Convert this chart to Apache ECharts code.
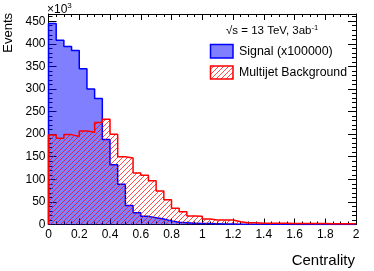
<!DOCTYPE html>
<html>
<head>
<meta charset="utf-8">
<script src="https://cdn.jsdelivr.net/npm/echarts@6/dist/echarts.min.js"></script>
<style>
html,body{margin:0;padding:0;background:#fff;}
#chart{width:374px;height:271px;}
</style>
</head>
<body>
<div id="chart"></div>
<script>
// Bin low edges (Centrality), width 0.05
const binLow = [0,0.05,0.1,0.15,0.2,0.25,0.3,0.35,0.4,0.45,0.5,0.55,0.6,0.65,0.7,0.75,0.8,0.85,0.9,0.95,
                1.0,1.05,1.1,1.15,1.2,1.25,1.3,1.35,1.4,1.45,1.5,1.55,1.6,1.65,1.7,1.75,1.8,1.85,1.9,1.95];
const xHigh = 2.0;
// Signal (x100000), in units of 10^3 events
const signal = [445,408,394,385,345,300,279,188,132,89,42,26,18,15,12,8,5,4,3,2,
                2,1.5,1,1,0.8,0.6,0.5,0.5,0.4,0.3,0.3,0.2,0.2,0.2,0.1,0.1,0.1,0.1,0.1,0.1];
// Multijet background, in units of 10^3 events
const background = [198,191,199,195,207,204,226,233,200,150,147,114,109,97,74,55,36,28,19,18,
                    12,10,10,10,6,4,4,3,3,3,3,2,2,2,2,2,1.5,1.5,1.5,1.5];
const xTicks = [0,0.2,0.4,0.6,0.8,1,1.2,1.4,1.6,1.8,2];
const yTicks = [0,50,100,150,200,250,300,350,400,450];

function stepData(vals){
  const d = [[binLow[0], 0]];
  binLow.forEach((e,i)=>d.push([e, vals[i]]));
  d.push([xHigh, vals[vals.length-1]]);
  d.push([xHigh, 0]);
  return d;
}

// hatch pattern
function makeHatch(){
  const s = 5;
  const c = document.createElement('canvas');
  c.width = s; c.height = s;
  const g = c.getContext('2d');
  g.strokeStyle = 'rgba(255,0,0,0.85)';
  g.lineWidth = 0.85;
  g.beginPath();
  g.moveTo(0, s); g.lineTo(s, 0);
  g.moveTo(-1, 1); g.lineTo(1, -1);
  g.moveTo(s-1, s+1); g.lineTo(s+1, s-1);
  g.stroke();
  return c;
}
const hatch = makeHatch();
const FONT = 'Liberation Sans, Arial, Helvetica, sans-serif';

const chart = echarts.init(document.getElementById('chart'), null, {renderer:'canvas'});
const axisCommon = {
  axisLine:{show:true, onZero:false, lineStyle:{color:'#000', width:1}},
  splitLine:{show:false}
};
const option = {
  animation:false,
  backgroundColor:'#fff',
  grid:{left:48.5, right:18, top:14, bottom:46.5, containLabel:false},
  xAxis:[
    Object.assign({type:'value', min:xTicks[0], max:xTicks[xTicks.length-1], interval:0.2, position:'bottom',
      axisTick:{show:true, inside:true, length:6, lineStyle:{color:'#000'}},
      minorTick:{show:true, splitNumber:4, length:3, lineStyle:{color:'#000'}},
      axisLabel:{show:true, fontSize:12, color:'#000', fontFamily:FONT, margin:4}
    }, axisCommon),
    Object.assign({type:'value', min:xTicks[0], max:xTicks[xTicks.length-1], interval:0.2, position:'top',
      axisTick:{show:true, inside:true, length:6, lineStyle:{color:'#000'}},
      minorTick:{show:true, splitNumber:4, length:3, lineStyle:{color:'#000'}},
      axisLabel:{show:false}
    }, axisCommon)
  ],
  yAxis:[
    Object.assign({type:'value', min:yTicks[0], max:466, interval:50, position:'left',
      axisTick:{show:true, inside:true, length:8, lineStyle:{color:'#000'}},
      minorTick:{show:true, splitNumber:5, length:4, lineStyle:{color:'#000'}},
      axisLabel:{show:true, fontSize:12, color:'#000', fontFamily:FONT, margin:3, showMaxLabel:false,
        formatter:v=> (yTicks.indexOf(v)>=0 ? String(v) : '')}
    }, axisCommon),
    Object.assign({type:'value', min:yTicks[0], max:466, interval:50, position:'right',
      axisTick:{show:true, inside:true, length:8, lineStyle:{color:'#000'}},
      minorTick:{show:true, splitNumber:5, length:4, lineStyle:{color:'#000'}},
      axisLabel:{show:false}
    }, axisCommon)
  ],
  series:[
    {name:'Signal (x100000)', type:'line', step:'end', xAxisIndex:0, yAxisIndex:0,
     data:stepData(signal), symbol:'none', silent:true,
     lineStyle:{color:'#0000ff', width:1.5},
     areaStyle:{color:'rgba(0,0,255,0.5)', opacity:1}, z:2},
    {name:'Multijet Background', type:'line', step:'end', xAxisIndex:0, yAxisIndex:0,
     data:stepData(background), symbol:'none', silent:true,
     lineStyle:{color:'#ff0000', width:1.5},
     areaStyle:{color:{image:hatch, repeat:'repeat'}, opacity:1}, z:3}
  ],
  graphic:[
    {type:'text', left:47, top:2, style:{
      text:'{m|×10}{s|3}', rich:{
        m:{fontSize:12, fontFamily:FONT, fill:'#000', verticalAlign:'bottom'},
        s:{fontSize:8, fontFamily:FONT, fill:'#000', verticalAlign:'top', padding:[0,0,6,0]}
      }}},
    {type:'text', x:8, y:13, rotation:Math.PI/2, style:{
      text:'Events', fontSize:13, fontFamily:FONT, fill:'#000', align:'right', verticalAlign:'middle'}},
    {type:'text', x:355, y:261, style:{
      text:'Centrality', fontSize:15, fontFamily:FONT, fill:'#000', align:'right', verticalAlign:'middle'}},
    {type:'text', x:226, y:31, style:{
      text:'{m|√s = 13 TeV, 3ab}{s|-1}', verticalAlign:'middle', rich:{
        m:{fontSize:11.5, fontFamily:FONT, fill:'#000'},
        s:{fontSize:7.5, fontFamily:FONT, fill:'#000', padding:[0,0,7,0]}
      }}},
    {type:'rect', shape:{x:210.5, y:44.5, width:22.5, height:13.5},
      style:{fill:'rgba(0,0,255,0.5)', stroke:'#0000ff', lineWidth:1.5}},
    {type:'text', x:239, y:51.5, style:{
      text:'Signal (x100000)', fontSize:12.4, fontFamily:FONT, fill:'#000', verticalAlign:'middle'}},
    {type:'rect', shape:{x:210.5, y:66, width:22.5, height:13},
      style:{fill:{image:hatch, repeat:'repeat'}, stroke:'#ff0000', lineWidth:1.5}},
    {type:'text', x:239, y:72.5, style:{
      text:'Multijet Background', fontSize:12.3, fontFamily:FONT, fill:'#000', verticalAlign:'middle'}}
  ]
};
chart.setOption(option);
</script>
</body>
</html>
